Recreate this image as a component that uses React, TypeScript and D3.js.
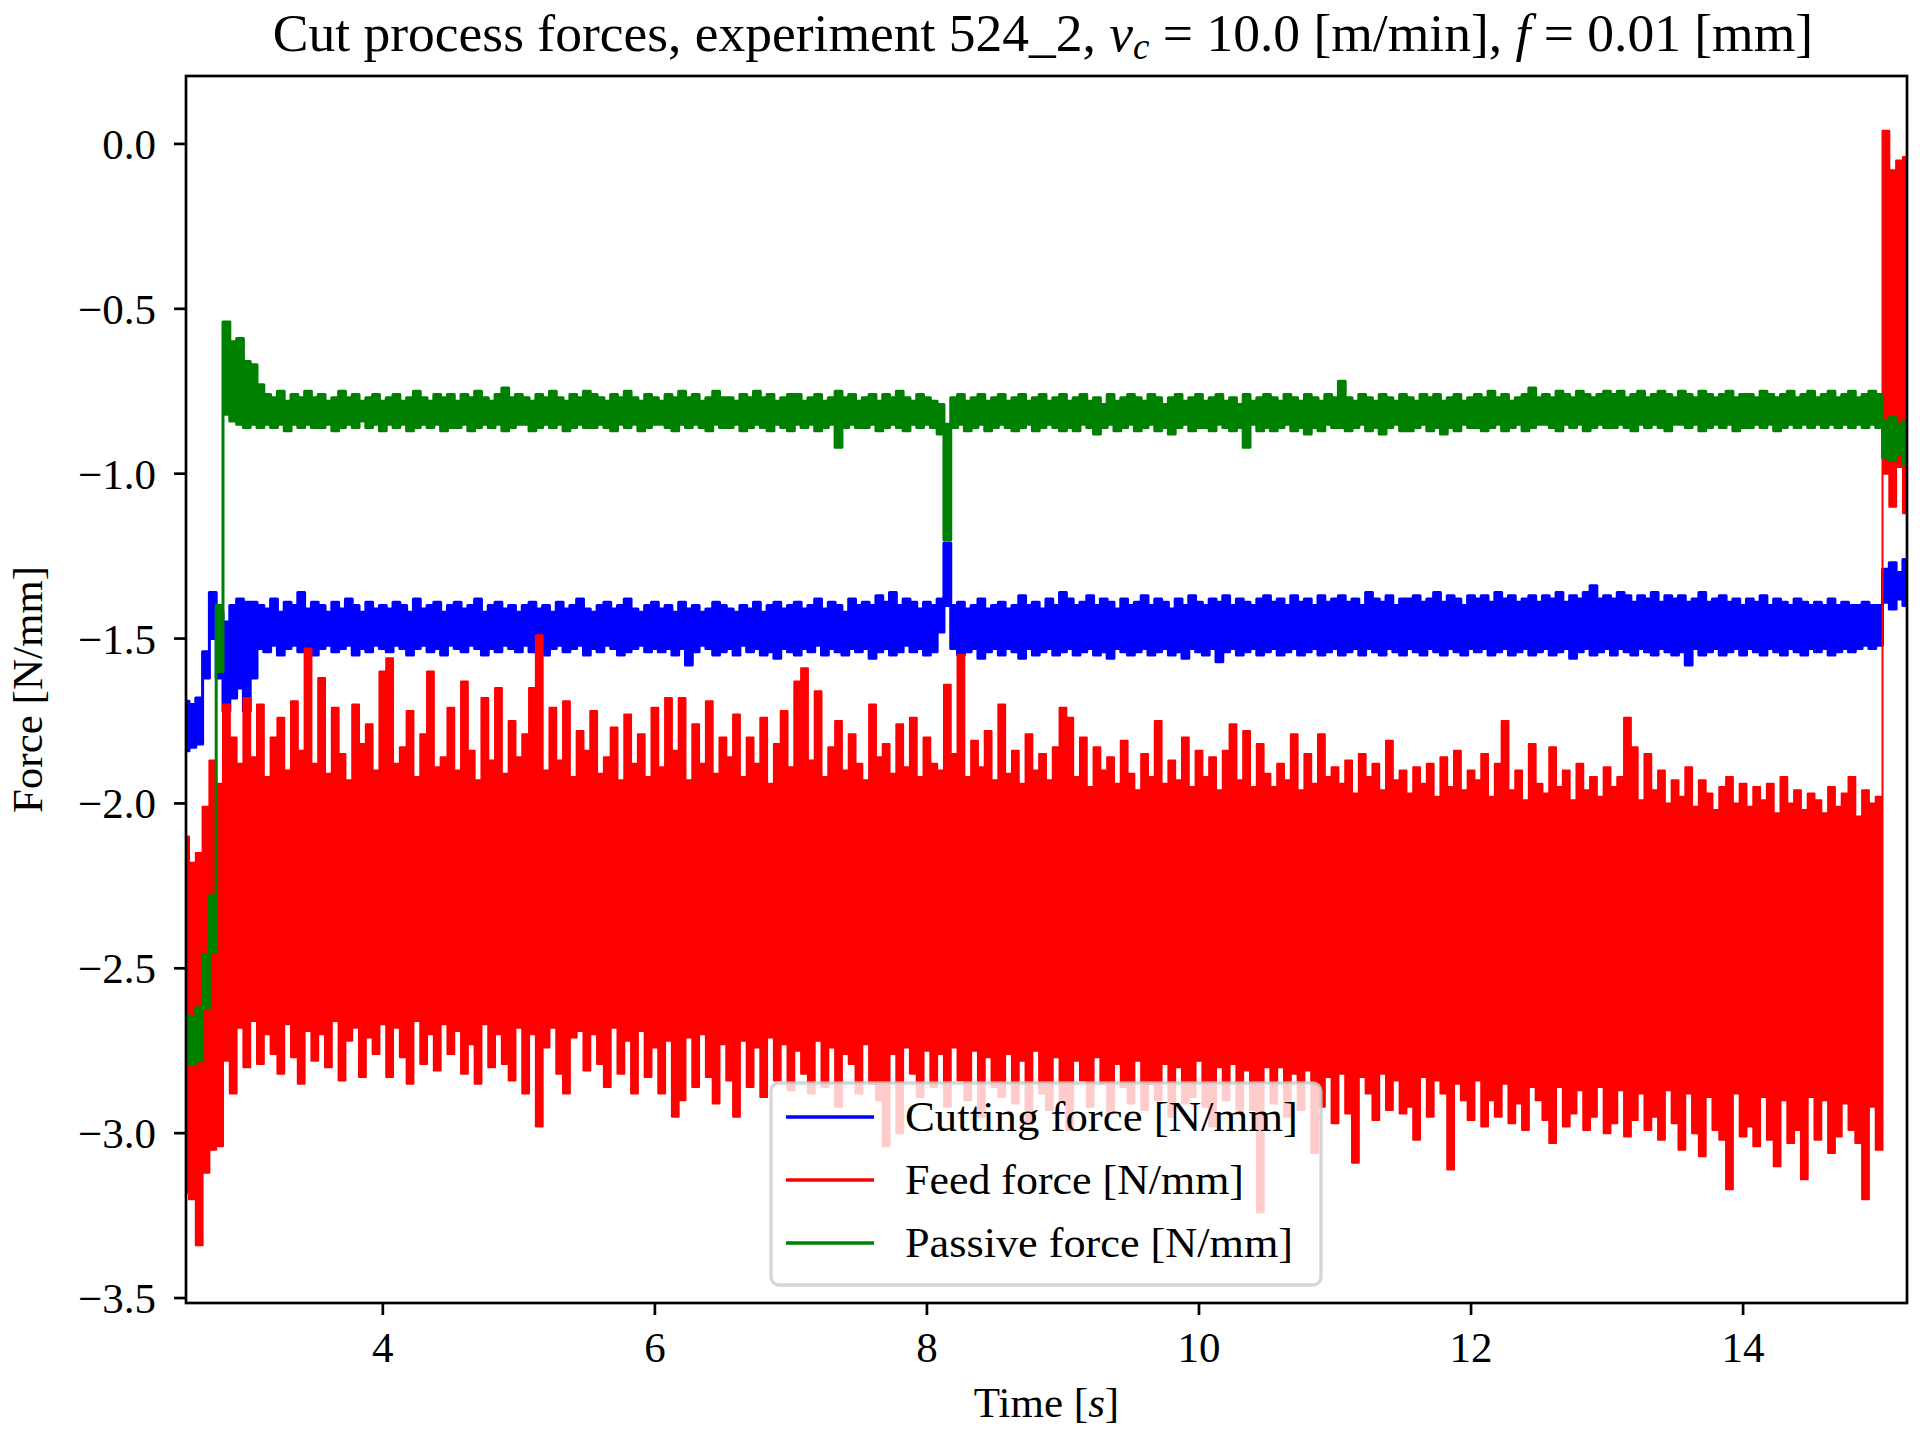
import React, { useEffect } from 'react';
import * as d3 from 'd3';

// sample grid of the recorded envelopes (s)
const T0 = 2.55;
const STEP = 0.05;

// Feed force, upper / lower extremes per 0.05 s window [N/mm]
const feedHi = [
  -2.10, -2.18, -2.15, -2.01, -1.87, -1.94, -1.70, -1.80, -1.88, -1.68,
  -1.86, -1.70, -1.92, -1.80, -1.74, -1.90, -1.69, -1.84, -1.53, -1.88,
  -1.62, -1.91, -1.71, -1.85, -1.93, -1.70, -1.82, -1.76, -1.90, -1.60,
  -1.56, -1.88, -1.83, -1.72, -1.92, -1.79, -1.60, -1.89, -1.86, -1.71,
  -1.90, -1.63, -1.84, -1.93, -1.68, -1.87, -1.65, -1.91, -1.75, -1.86,
  -1.79, -1.65, -1.49, -1.90, -1.71, -1.87, -1.69, -1.92, -1.78, -1.84,
  -1.72, -1.91, -1.86, -1.77, -1.93, -1.73, -1.88, -1.79, -1.92, -1.71,
  -1.89, -1.68, -1.84, -1.68, -1.93, -1.76, -1.88, -1.69, -1.91, -1.80,
  -1.86, -1.73, -1.92, -1.80, -1.88, -1.74, -1.94, -1.82, -1.72, -1.89,
  -1.63, -1.59, -1.87, -1.66, -1.92, -1.83, -1.75, -1.90, -1.79, -1.88,
  -1.93, -1.70, -1.86, -1.82, -1.91, -1.76, -1.89, -1.74, -1.92, -1.80,
  -1.88, -1.90, -1.64, -1.85, -1.55, -1.92, -1.81, -1.89, -1.78, -1.93,
  -1.70, -1.91, -1.84, -1.94, -1.79, -1.90, -1.85, -1.93, -1.83, -1.71,
  -1.74, -1.92, -1.80, -1.95, -1.83, -1.90, -1.86, -1.94, -1.81, -1.91,
  -1.96, -1.85, -1.92, -1.75, -1.94, -1.87, -1.93, -1.80, -1.95, -1.84,
  -1.92, -1.86, -1.96, -1.84, -1.76, -1.93, -1.78, -1.95, -1.82, -1.91,
  -1.95, -1.88, -1.93, -1.79, -1.96, -1.85, -1.94, -1.79, -1.92, -1.89,
  -1.94, -1.87, -1.97, -1.85, -1.92, -1.88, -1.96, -1.81, -1.93, -1.90,
  -1.97, -1.89, -1.94, -1.88, -1.98, -1.86, -1.95, -1.84, -1.96, -1.90,
  -1.93, -1.85, -1.98, -1.88, -1.75, -1.96, -1.90, -1.99, -1.82, -1.94,
  -1.97, -1.83, -1.95, -1.90, -1.99, -1.88, -1.96, -1.92, -1.98, -1.89,
  -1.95, -1.92, -1.74, -1.83, -1.99, -1.85, -1.96, -1.90, -2.00, -1.93,
  -1.98, -1.89, -2.01, -1.93, -1.97, -2.02, -1.95, -1.92, -2.00, -1.94,
  -2.01, -1.95, -1.99, -1.94, -2.03, -1.92, -2.00, -1.96, -2.02, -1.97,
  -1.99, -2.03, -1.95, -2.01, -1.97, -1.92, -2.04, -1.96, -2.00, -1.98,
  0.04, -0.08, -0.05, -0.04,
];
const feedLo = [
  -3.18, -3.20, -3.34, -3.12, -3.05, -3.04, -2.78, -2.88, -2.68, -2.80,
  -2.66, -2.79, -2.70, -2.76, -2.82, -2.67, -2.77, -2.85, -2.69, -2.78,
  -2.70, -2.80, -2.66, -2.84, -2.72, -2.68, -2.83, -2.71, -2.76, -2.67,
  -2.83, -2.68, -2.77, -2.85, -2.66, -2.79, -2.70, -2.81, -2.67, -2.76,
  -2.69, -2.82, -2.73, -2.85, -2.67, -2.80, -2.70, -2.79, -2.84, -2.68,
  -2.88, -2.70, -2.98, -2.74, -2.68, -2.82, -2.88, -2.71, -2.69, -2.81,
  -2.70, -2.79, -2.86, -2.68, -2.82, -2.72, -2.88, -2.69, -2.83, -2.74,
  -2.88, -2.72, -2.95, -2.90, -2.71, -2.86, -2.70, -2.83, -2.91, -2.73,
  -2.84, -2.95, -2.72, -2.86, -2.74, -2.89, -2.71, -2.84, -2.73, -2.87,
  -2.75, -2.82, -2.88, -2.72, -2.86, -2.74, -2.92, -2.76, -2.79, -2.88,
  -2.73, -2.85, -2.90, -3.04, -2.76, -3.00, -2.74, -2.82, -2.89, -2.75,
  -2.86, -2.76, -2.92, -2.74, -2.84, -2.90, -2.75, -2.95, -2.77, -2.86,
  -2.89, -2.76, -2.91, -2.78, -2.97, -2.75, -2.88, -2.93, -2.77, -2.90,
  -2.99, -2.78, -2.84, -2.92, -2.77, -2.85, -2.94, -2.79, -2.86, -2.91,
  -2.78, -2.93, -2.85, -2.90, -2.79, -2.95, -2.80, -2.91, -2.89, -2.78,
  -2.92, -2.98, -2.80, -2.90, -2.79, -2.94, -2.81, -2.93, -3.24, -2.80,
  -2.91, -2.80, -2.95, -2.82, -2.93, -2.81, -3.06, -2.92, -2.83, -2.97,
  -2.82, -2.94, -3.09, -2.83, -2.88, -2.96, -2.82, -2.93, -2.84, -2.94,
  -2.92, -3.02, -2.83, -2.95, -2.84, -2.88, -3.11, -2.85, -2.90, -2.96,
  -2.84, -2.98, -2.90, -2.95, -2.85, -2.97, -2.91, -2.99, -2.86, -2.90,
  -2.96, -3.03, -2.86, -2.98, -2.94, -2.87, -2.99, -2.95, -2.86, -3.00,
  -2.97, -2.87, -3.01, -2.96, -2.88, -2.99, -2.95, -3.02, -2.87, -2.97,
  -3.05, -2.88, -3.00, -3.07, -2.89, -2.99, -3.02, -3.17, -2.88, -3.01,
  -2.98, -3.04, -2.89, -3.02, -3.10, -2.90, -3.03, -2.99, -3.14, -2.89,
  -3.02, -2.90, -3.06, -3.01, -2.91, -2.99, -3.03, -3.20, -2.92, -3.05,
  -1.00, -1.10, -0.98, -1.12,
];

// Cutting force
const cutHi = [
  -1.69, -1.70, -1.68, -1.54, -1.36, -1.42, -1.45, -1.40, -1.38, -1.39,
  -1.39, -1.40, -1.41, -1.38, -1.42, -1.39, -1.40, -1.36, -1.41, -1.39,
  -1.40, -1.42, -1.39, -1.41, -1.38, -1.40, -1.42, -1.39, -1.41, -1.40,
  -1.41, -1.39, -1.40, -1.42, -1.38, -1.41, -1.40, -1.39, -1.42, -1.40,
  -1.39, -1.41, -1.40, -1.38, -1.42, -1.40, -1.39, -1.41, -1.40, -1.42,
  -1.40, -1.39, -1.41, -1.40, -1.42, -1.39, -1.41, -1.40, -1.38, -1.41,
  -1.42, -1.40, -1.39, -1.41, -1.40, -1.38, -1.41, -1.42, -1.40, -1.39,
  -1.41, -1.40, -1.42, -1.39, -1.41, -1.40, -1.42, -1.41, -1.39, -1.40,
  -1.41, -1.42, -1.40, -1.41, -1.39, -1.42, -1.40, -1.39, -1.41, -1.40,
  -1.39, -1.41, -1.40, -1.38, -1.41, -1.39, -1.40, -1.42, -1.38, -1.40,
  -1.39, -1.40, -1.37, -1.39, -1.36, -1.40, -1.38, -1.39, -1.41, -1.39,
  -1.40, -1.38, -1.21, -1.40, -1.39, -1.41, -1.40, -1.38, -1.41, -1.40,
  -1.39, -1.41, -1.40, -1.37, -1.40, -1.39, -1.41, -1.38, -1.40, -1.36,
  -1.38, -1.40, -1.39, -1.37, -1.40, -1.38, -1.39, -1.41, -1.38, -1.40,
  -1.39, -1.37, -1.40, -1.38, -1.39, -1.41, -1.38, -1.40, -1.37, -1.39,
  -1.40, -1.38, -1.39, -1.37, -1.40, -1.38, -1.39, -1.40, -1.38, -1.37,
  -1.39, -1.38, -1.40, -1.37, -1.39, -1.38, -1.40, -1.37, -1.39, -1.38,
  -1.37, -1.39, -1.38, -1.40, -1.36, -1.38, -1.39, -1.37, -1.40, -1.38,
  -1.38, -1.37, -1.39, -1.38, -1.36, -1.39, -1.37, -1.38, -1.40, -1.37,
  -1.38, -1.37, -1.39, -1.36, -1.38, -1.37, -1.39, -1.38, -1.37, -1.39,
  -1.37, -1.38, -1.36, -1.39, -1.37, -1.38, -1.36, -1.34, -1.38, -1.37,
  -1.38, -1.36, -1.37, -1.39, -1.37, -1.38, -1.36, -1.39, -1.37, -1.38,
  -1.37, -1.39, -1.38, -1.36, -1.39, -1.38, -1.37, -1.39, -1.38, -1.40,
  -1.38, -1.39, -1.37, -1.40, -1.38, -1.39, -1.40, -1.38, -1.39, -1.40,
  -1.39, -1.40, -1.38, -1.40, -1.39, -1.40, -1.40, -1.39, -1.40, -1.40,
  -1.29, -1.27, -1.30, -1.26,
];
const cutLo = [
  -1.84, -1.83, -1.82, -1.62, -1.50, -1.62, -1.72, -1.68, -1.65, -1.72,
  -1.62, -1.53, -1.54, -1.52, -1.55, -1.53, -1.52, -1.54, -1.53, -1.55,
  -1.53, -1.52, -1.54, -1.53, -1.52, -1.55, -1.53, -1.54, -1.52, -1.53,
  -1.54, -1.52, -1.53, -1.55, -1.53, -1.52, -1.54, -1.53, -1.55, -1.52,
  -1.53, -1.54, -1.52, -1.53, -1.55, -1.53, -1.54, -1.52, -1.53, -1.54,
  -1.52, -1.54, -1.53, -1.55, -1.53, -1.52, -1.54, -1.53, -1.52, -1.55,
  -1.53, -1.54, -1.52, -1.53, -1.55, -1.54, -1.53, -1.52, -1.54, -1.53,
  -1.54, -1.53, -1.55, -1.53, -1.58, -1.54, -1.52, -1.53, -1.55, -1.54,
  -1.53, -1.55, -1.52, -1.54, -1.53, -1.55, -1.54, -1.56, -1.53, -1.54,
  -1.55, -1.53, -1.54, -1.52, -1.55, -1.53, -1.54, -1.55, -1.53, -1.54,
  -1.53, -1.56, -1.54, -1.53, -1.55, -1.54, -1.52, -1.54, -1.53, -1.55,
  -1.54, -1.48, -1.40, -1.53, -1.55, -1.54, -1.53, -1.56, -1.54, -1.53,
  -1.55, -1.53, -1.54, -1.56, -1.53, -1.55, -1.54, -1.53, -1.55, -1.54,
  -1.53, -1.55, -1.54, -1.53, -1.55, -1.54, -1.56, -1.53, -1.54, -1.55,
  -1.54, -1.53, -1.55, -1.54, -1.53, -1.55, -1.54, -1.56, -1.53, -1.54,
  -1.55, -1.53, -1.57, -1.54, -1.53, -1.55, -1.54, -1.53, -1.55, -1.54,
  -1.53, -1.55, -1.54, -1.53, -1.55, -1.54, -1.53, -1.55, -1.54, -1.53,
  -1.55, -1.54, -1.53, -1.55, -1.53, -1.54, -1.55, -1.53, -1.54, -1.55,
  -1.53, -1.54, -1.55, -1.53, -1.54, -1.55, -1.53, -1.54, -1.55, -1.53,
  -1.54, -1.53, -1.55, -1.54, -1.53, -1.55, -1.54, -1.53, -1.55, -1.54,
  -1.53, -1.55, -1.54, -1.53, -1.56, -1.54, -1.53, -1.55, -1.54, -1.53,
  -1.55, -1.53, -1.54, -1.55, -1.53, -1.54, -1.55, -1.53, -1.54, -1.55,
  -1.54, -1.58, -1.53, -1.55, -1.54, -1.53, -1.55, -1.54, -1.53, -1.55,
  -1.53, -1.54, -1.55, -1.53, -1.54, -1.55, -1.53, -1.54, -1.55, -1.53,
  -1.54, -1.53, -1.55, -1.54, -1.53, -1.54, -1.53, -1.52, -1.53, -1.52,
  -1.39, -1.41, -1.38, -1.40,
];

// Passive force
const passHi = [
  -2.64, -2.65, -2.62, -2.46, -2.28, -1.40, -0.54, -0.60, -0.59, -0.66,
  -0.67, -0.73, -0.76, -0.77, -0.75, -0.78, -0.76, -0.77, -0.75, -0.77,
  -0.76, -0.78, -0.77, -0.75, -0.77, -0.76, -0.78, -0.77, -0.76, -0.78,
  -0.77, -0.76, -0.78, -0.77, -0.75, -0.77, -0.78, -0.76, -0.77, -0.76,
  -0.78, -0.76, -0.77, -0.75, -0.77, -0.78, -0.76, -0.74, -0.77, -0.76,
  -0.77, -0.78, -0.76, -0.77, -0.75, -0.77, -0.78, -0.76, -0.77, -0.75,
  -0.76, -0.77, -0.78, -0.76, -0.77, -0.75, -0.77, -0.78, -0.76, -0.77,
  -0.78, -0.76, -0.77, -0.75, -0.77, -0.76, -0.78, -0.77, -0.75, -0.77,
  -0.77, -0.78, -0.76, -0.77, -0.75, -0.77, -0.76, -0.78, -0.77, -0.76,
  -0.76, -0.78, -0.77, -0.76, -0.78, -0.77, -0.75, -0.77, -0.76, -0.78,
  -0.77, -0.76, -0.78, -0.76, -0.77, -0.75, -0.77, -0.78, -0.76, -0.77,
  -0.78, -0.79, -0.85, -0.77, -0.76, -0.78, -0.77, -0.76, -0.78, -0.77,
  -0.76, -0.78, -0.77, -0.76, -0.78, -0.77, -0.76, -0.78, -0.77, -0.76,
  -0.78, -0.77, -0.76, -0.78, -0.77, -0.79, -0.76, -0.78, -0.77, -0.76,
  -0.77, -0.78, -0.76, -0.77, -0.79, -0.77, -0.76, -0.78, -0.77, -0.76,
  -0.78, -0.77, -0.76, -0.78, -0.77, -0.79, -0.76, -0.78, -0.77, -0.76,
  -0.77, -0.78, -0.76, -0.77, -0.78, -0.76, -0.77, -0.78, -0.76, -0.77,
  -0.72, -0.77, -0.78, -0.76, -0.77, -0.78, -0.76, -0.77, -0.78, -0.76,
  -0.77, -0.78, -0.76, -0.77, -0.76, -0.78, -0.77, -0.76, -0.78, -0.77,
  -0.76, -0.77, -0.75, -0.77, -0.76, -0.78, -0.77, -0.76, -0.74, -0.77,
  -0.76, -0.77, -0.75, -0.76, -0.77, -0.75, -0.76, -0.77, -0.76, -0.75,
  -0.76, -0.75, -0.77, -0.76, -0.75, -0.77, -0.76, -0.75, -0.76, -0.77,
  -0.75, -0.76, -0.77, -0.75, -0.76, -0.77, -0.76, -0.75, -0.77, -0.76,
  -0.76, -0.77, -0.75, -0.76, -0.77, -0.76, -0.75, -0.77, -0.76, -0.75,
  -0.77, -0.76, -0.75, -0.77, -0.76, -0.75, -0.77, -0.76, -0.75, -0.76,
  -0.84, -0.83, -0.85, -0.84,
];
const passLo = [
  -2.79, -2.79, -2.78, -2.62, -2.45, -1.60, -0.82, -0.84, -0.85, -0.86,
  -0.85, -0.86, -0.85, -0.86, -0.85, -0.87, -0.85, -0.86, -0.85, -0.86,
  -0.86, -0.85, -0.87, -0.86, -0.85, -0.86, -0.84, -0.86, -0.85, -0.87,
  -0.85, -0.86, -0.85, -0.87, -0.86, -0.85, -0.86, -0.85, -0.87, -0.86,
  -0.86, -0.85, -0.87, -0.86, -0.85, -0.86, -0.85, -0.87, -0.86, -0.85,
  -0.85, -0.87, -0.86, -0.85, -0.86, -0.85, -0.87, -0.86, -0.85, -0.86,
  -0.86, -0.85, -0.86, -0.87, -0.85, -0.86, -0.85, -0.87, -0.86, -0.85,
  -0.85, -0.86, -0.87, -0.85, -0.86, -0.85, -0.86, -0.87, -0.85, -0.86,
  -0.86, -0.85, -0.87, -0.86, -0.85, -0.86, -0.87, -0.85, -0.86, -0.87,
  -0.85, -0.86, -0.85, -0.87, -0.86, -0.85, -0.92, -0.86, -0.85, -0.86,
  -0.86, -0.85, -0.87, -0.86, -0.85, -0.86, -0.87, -0.85, -0.86, -0.85,
  -0.86, -0.88, -1.20, -0.86, -0.85, -0.87, -0.86, -0.85, -0.87, -0.86,
  -0.85, -0.86, -0.87, -0.86, -0.85, -0.87, -0.86, -0.85, -0.86, -0.87,
  -0.86, -0.87, -0.85, -0.86, -0.88, -0.86, -0.85, -0.87, -0.86, -0.85,
  -0.87, -0.86, -0.85, -0.87, -0.86, -0.88, -0.86, -0.85, -0.87, -0.86,
  -0.86, -0.87, -0.85, -0.86, -0.87, -0.86, -0.92, -0.85, -0.87, -0.86,
  -0.87, -0.86, -0.85, -0.87, -0.86, -0.88, -0.86, -0.87, -0.85, -0.86,
  -0.86, -0.87, -0.86, -0.85, -0.87, -0.86, -0.88, -0.86, -0.85, -0.87,
  -0.87, -0.86, -0.85, -0.87, -0.86, -0.88, -0.86, -0.87, -0.85, -0.86,
  -0.86, -0.87, -0.86, -0.85, -0.87, -0.86, -0.85, -0.87, -0.86, -0.85,
  -0.85, -0.86, -0.87, -0.85, -0.86, -0.85, -0.87, -0.86, -0.85, -0.86,
  -0.86, -0.85, -0.86, -0.87, -0.85, -0.86, -0.85, -0.86, -0.87, -0.85,
  -0.85, -0.86, -0.85, -0.87, -0.86, -0.85, -0.86, -0.85, -0.87, -0.86,
  -0.86, -0.85, -0.86, -0.85, -0.87, -0.86, -0.85, -0.86, -0.85, -0.86,
  -0.85, -0.86, -0.85, -0.86, -0.85, -0.86, -0.85, -0.86, -0.85, -0.86,
  -0.95, -0.96, -0.94, -0.97,
];

const xTicks = [4, 6, 8, 10, 12, 14];
const yTicks = [0, -0.5, -1, -1.5, -2, -2.5, -3, -3.5];

// drawn in this order: cutting, feed, passive
const series = [
  { label: 'Cutting force [N/mm]', color: '#0000ff', width: 393, hi: cutHi, lo: cutLo, stroke: 3 },
  { label: 'Feed force [N/mm]', color: '#ff0000', width: 339, hi: feedHi, lo: feedLo, stroke: 2 },
  { label: 'Passive force [N/mm]', color: '#008000', width: 388, hi: passHi, lo: passLo, stroke: 3 },
];

const W = 1920;
const H = 1440;
const L = 186, R = 1907, TOP = 76, BOT = 1303;
const FONT = '"Liberation Serif", "DejaVu Serif", serif';

const x = d3.scaleLinear().domain([2.553, 15.205]).range([L, R]);
const y = d3.scaleLinear().domain([-3.515, 0.206]).range([BOT, TOP]);

const tAt = (i: number) => T0 + i * STEP;

// min/max envelope of each window drawn as a stepped band
function band(hi: number[], lo: number[]) {
  const idx = d3.range(Math.min(hi.length, lo.length));
  return d3.area<number>()
    .curve(d3.curveStep)
    .x(i => x(tAt(i)))
    .y0(i => y(lo[i]))
    .y1(i => y(hi[i]))(idx) || '';
}

const fmtY = (v: number) => d3.format('.1f')(v).replace('-', '\u2212');

export default function App() {
  useEffect(() => {
    document.body.style.margin = '0';
  }, []);

  const legendX = 771, legendY = 1083, legendW = 550, legendH = 202;
  const rowY = [1117, 1180, 1243];

  return (
    <svg width={W} height={H} viewBox={`0 0 ${W} ${H}`} style={{ display: 'block', background: '#fff' }} fontFamily={FONT}>
      <defs>
        <clipPath id="plot">
          <rect x={L} y={TOP} width={R - L} height={BOT - TOP} />
        </clipPath>
      </defs>
      <rect x={0} y={0} width={W} height={H} fill="#fff" />

      <g clipPath="url(#plot)">
        {series.map(s => (
          <path key={s.label} d={band(s.hi, s.lo)} fill={s.color} stroke={s.color}
            strokeWidth={s.stroke} strokeLinejoin="round" />
        ))}
      </g>

      {/* spines */}
      <rect x={L} y={TOP} width={R - L} height={BOT - TOP} fill="none" stroke="#000" strokeWidth={2.7} />

      {/* x axis */}
      {xTicks.map(t => (
        <g key={'x' + t}>
          <line x1={x(t)} x2={x(t)} y1={BOT} y2={BOT + 12} stroke="#000" strokeWidth={2.7} />
          <text x={x(t)} y={1362} textAnchor="middle" fontSize={43}>{t}</text>
        </g>
      ))}
      <text x={(L + R) / 2} y={1417} textAnchor="middle" fontSize={43}>
        Time [<tspan fontStyle="italic">s</tspan>]
      </text>

      {/* y axis */}
      {yTicks.map(v => (
        <g key={'y' + v}>
          <line x1={L - 12} x2={L} y1={y(v)} y2={y(v)} stroke="#000" strokeWidth={2.7} />
          <text x={156} y={y(v) + 15} textAnchor="end" fontSize={43}>{fmtY(v)}</text>
        </g>
      ))}
      <text transform={`translate(42,${(TOP + BOT) / 2}) rotate(-90)`} textAnchor="middle" fontSize={43}>
        Force [N/mm]
      </text>

      {/* title */}
      <text x={1043} y={51} textAnchor="middle" fontSize={53.5}>
        Cut process forces, experiment 524_2, <tspan fontStyle="italic">v</tspan>
        <tspan fontStyle="italic" fontSize={37} dy={8}>c</tspan>
        <tspan dy={-8}> = 10.0 [m/min], </tspan>
        <tspan fontStyle="italic">f</tspan> = 0.01 [mm]
      </text>

      {/* legend */}
      <rect x={legendX} y={legendY} width={legendW} height={legendH} rx={8} ry={8}
        fill="#fff" fillOpacity={0.8} stroke="#cccccc" strokeOpacity={0.8} strokeWidth={3.3} />
      {series.map((s, i) => (
        <g key={s.label}>
          <line x1={786} x2={874} y1={rowY[i]} y2={rowY[i]} stroke={s.color} strokeWidth={3.4} />
          <text x={905} y={rowY[i] + 14} fontSize={43} textLength={s.width} lengthAdjust="spacingAndGlyphs">{s.label}</text>
        </g>
      ))}
    </svg>
  );
}
